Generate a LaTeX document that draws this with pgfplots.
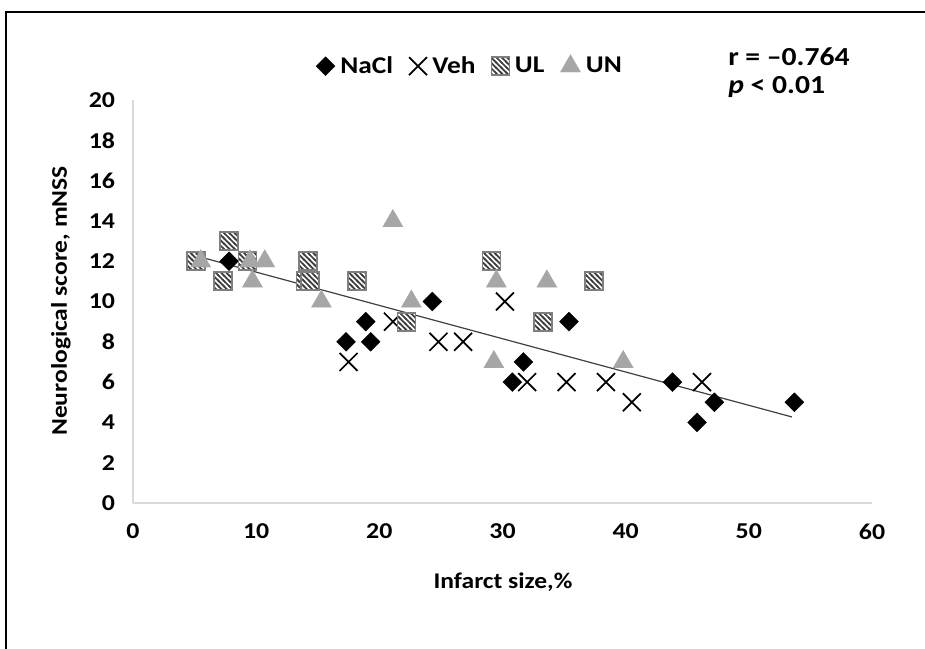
\documentclass[border=0pt]{standalone}
\usepackage{fontspec}
\setmainfont{Carlito}[FakeStretch=1.14]
\usepackage{pgfplots}
\pgfplotsset{compat=1.18}
\usetikzlibrary{patterns}

\definecolor{trigray}{HTML}{A6A6A6}
\definecolor{sqedge}{HTML}{7F7F7F}
\definecolor{hatchc}{HTML}{404040}
\definecolor{axisgray}{HTML}{D9D9D9}
\definecolor{trend}{HTML}{404040}

\pgfdeclarepatternformonly{hatchnw}{\pgfqpoint{-1pt}{-1pt}}{\pgfqpoint{5pt}{5pt}}{\pgfqpoint{4pt}{4pt}}{%
  \pgfsetlinewidth{1.3pt}%
  \pgfpathmoveto{\pgfqpoint{-1pt}{5pt}}%
  \pgfpathlineto{\pgfqpoint{5pt}{-1pt}}%
  \pgfusepath{stroke}}

\pgfdeclareplotmark{hatchsq}{%
  \pgfpathrectangle{\pgfqpoint{-\pgfplotmarksize}{-\pgfplotmarksize}}{\pgfqpoint{2\pgfplotmarksize}{2\pgfplotmarksize}}%
  \pgfsetfillcolor{white}\pgfusepathqfill
  \pgfpathrectangle{\pgfqpoint{-\pgfplotmarksize}{-\pgfplotmarksize}}{\pgfqpoint{2\pgfplotmarksize}{2\pgfplotmarksize}}%
  \pgfsetfillpattern{hatchnw}{hatchc}\pgfusepathqfill
  \pgfpathrectangle{\pgfqpoint{-\pgfplotmarksize}{-\pgfplotmarksize}}{\pgfqpoint{2\pgfplotmarksize}{2\pgfplotmarksize}}%
  \pgfusepathqstroke}

\newcommand\ticklbl{\fontsize{17}{20}\selectfont\bfseries}
\newcommand\axlbl{\fontsize{16.8}{20}\selectfont\bfseries}
\newcommand\leglbl{\fontsize{18}{21}\selectfont\bfseries}
\newcommand\biglbl{\fontsize{19.5}{23}\selectfont\bfseries}

\begin{document}
\begin{tikzpicture}
\useasboundingbox (0,0) rectangle (693.75pt,486.75pt);
\draw[line width=1.5pt, black] (4.5pt,0) -- (4.5pt,477.75pt) -- (693.75pt,477.75pt);

\begin{axis}[
  at={(99.75pt,109.5pt)}, anchor=south west,
  scale only axis, width=554.25pt, height=302.25pt,
  xmin=0, xmax=60, ymin=0, ymax=20,
  xtick={0,10,...,60}, ytick={0,2,...,20},
  axis x line*=bottom, axis y line*=left,
  axis line style={-, draw=axisgray, line width=1.1pt},
  major tick length=0pt, tick style={draw=none},
  /pgf/number format/assume math mode=true,
  tick label style={font=\ticklbl},
  xticklabel style={yshift=-12pt},
  yticklabel style={xshift=-10pt},
  clip=false,
  legend style={at={(axis description cs:0.4547,1.0868)}, anchor=center,
    draw=none, fill=none, font=\leglbl, inner sep=0pt,
    nodes={inner sep=0pt},
    /tikz/every odd column/.append style={column sep=4pt},
    /tikz/every even column/.append style={column sep=12pt}},
  legend columns=-1,
  legend image code/.code={\draw[mark repeat=2,mark phase=2,#1] plot coordinates {(0pt,0pt)(11pt,0pt)(22pt,0pt)};},
]
% NaCl
\addplot[only marks, mark=square*, mark size=5pt, mark options={rotate=45, fill=black, draw=black, line width=0.3pt}]
coordinates {(7.8,12) (17.3,8) (18.9,9) (19.3,8) (24.3,10) (30.8,6) (31.7,7) (35.4,9) (43.8,6) (45.8,4) (47.2,5) (53.7,5)};
\addlegendentry{NaCl}
% Veh
\addplot[only marks, mark=x, mark size=9.5pt, mark options={draw=black, line width=1.3pt}]
coordinates {(17.5,7) (21.1,9) (24.8,8) (26.8,8) (30.2,10) (32.0,6) (35.2,6) (38.4,6) (40.5,5) (46.2,6)};
\addlegendentry{Veh}
% UL
\addplot[only marks, mark=hatchsq, mark size=6.75pt, mark options={draw=sqedge, line width=1.3pt}]
coordinates {(5.1,12) (7.8,13) (7.3,11) (9.3,12) (14.0,11) (14.4,11) (14.2,12) (18.2,11) (22.2,9) (29.1,12) (33.3,9) (37.4,11)};
\addlegendentry{UL}
% UN
\addplot[only marks, mark=triangle*, mark size=8.8pt, mark options={fill=trigray, draw=trigray, line width=0.1pt}]
coordinates {(5.5,12) (9.5,12) (10.7,12) (9.7,11) (15.3,10) (21.1,14) (22.6,10) (29.5,11) (29.3,7) (33.6,11) (39.8,7)};
\addlegendentry{UN}
% trend line
\addplot[forget plot, no marks, draw=trend, line width=0.9pt] coordinates {(4.9,12.3) (53.5,4.27)};
\end{axis}

\node[font=\axlbl, rotate=90, anchor=center] at (45.75pt,261pt) {Neurological score, mNSS};
\node[font=\axlbl, anchor=center] at (377.25pt,50pt) {Infarct size,\%};
\node[font=\biglbl, anchor=west, inner sep=0pt] at (546pt,444pt) {r = –0.764};
\node[font=\biglbl, anchor=west, inner sep=0pt] at (546pt,421.5pt) {\textit{p} < 0.01};
\end{tikzpicture}
\end{document}
